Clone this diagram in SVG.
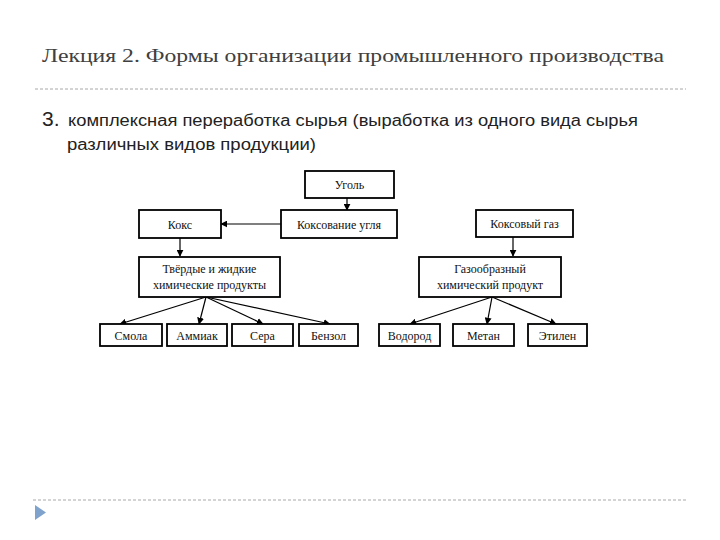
<svg xmlns="http://www.w3.org/2000/svg" width="720" height="540" viewBox="0 0 720 540">
<style>
.box{fill:#fff;stroke:#000;stroke-width:1.8}
.bt{font-family:"Liberation Serif",serif;font-size:12px;fill:#111;text-anchor:middle}
.con{stroke:#000;stroke-width:1.2;fill:none;marker-end:url(#ah)}
.dash{stroke:#a8a8a8;stroke-width:1;stroke-dasharray:3 2}
</style>
<defs>
<marker id="ah" viewBox="0 0 10 10" refX="9" refY="5" markerWidth="7" markerHeight="7" markerUnits="userSpaceOnUse" orient="auto">
<path d="M0,0 L10,5 L0,10 z" fill="#000"/>
</marker>
</defs>
<rect width="720" height="540" fill="#fff"/>
<text x="42" y="62" font-family="Liberation Serif,serif" font-size="19" fill="#404040" textLength="622" lengthAdjust="spacingAndGlyphs">Лекция 2. Формы организации промышленного производства</text>
<line class="dash" x1="35" y1="89" x2="686" y2="89"/>
<text x="42" y="126" font-family="Liberation Sans,sans-serif" font-size="21" fill="#222">3.</text>
<text x="68" y="126" font-family="Liberation Sans,sans-serif" font-size="16" fill="#222" textLength="570" lengthAdjust="spacingAndGlyphs">комплексная переработка сырья (выработка из одного вида сырья</text>
<text x="67" y="150" font-family="Liberation Sans,sans-serif" font-size="16" fill="#222" textLength="249" lengthAdjust="spacingAndGlyphs">различных видов продукции)</text>
<line class="dash" x1="33" y1="500" x2="686" y2="500"/>
<path d="M35,505 L46,512.5 L35,520 z" fill="#7fa3cc"/>

<g id="connectors">
<line class="con" x1="347" y1="198" x2="347" y2="210"/>
<line class="con" x1="281" y1="224" x2="221" y2="224"/>
<line class="con" x1="180" y1="238" x2="180" y2="256"/>
<line class="con" x1="513" y1="237" x2="513" y2="256"/>
<line class="con" x1="206" y1="297" x2="120" y2="324"/>
<line class="con" x1="206" y1="297" x2="199" y2="324"/>
<line class="con" x1="206" y1="297" x2="263" y2="324"/>
<line class="con" x1="206" y1="297" x2="330" y2="324"/>
<line class="con" x1="492" y1="297" x2="410" y2="324"/>
<line class="con" x1="492" y1="297" x2="487" y2="324"/>
<line class="con" x1="492" y1="297" x2="556" y2="324"/>
</g>

<g id="ugol"><rect class="box" x="305" y="171" width="89" height="27"/><text class="bt" x="349.5" y="188.5">Уголь</text></g>
<g id="koksovanie"><rect class="box" x="281" y="210" width="116" height="28"/><text class="bt" x="339" y="228.5">Коксование угля</text></g>
<g id="koks"><rect class="box" x="139" y="210" width="82" height="28"/><text class="bt" x="180" y="228.5">Кокс</text></g>
<g id="koks-gaz"><rect class="box" x="476" y="210" width="97" height="27"/><text class="bt" x="524.5" y="228">Коксовый газ</text></g>
<g id="tverdye"><rect class="box" x="139" y="257" width="141" height="40"/><text class="bt" x="209.5" y="273">Твёрдые и жидкие</text><text class="bt" x="209.5" y="289">химические продукты</text></g>
<g id="gazoobr"><rect class="box" x="419" y="257" width="142" height="40"/><text class="bt" x="490" y="273">Газообразный</text><text class="bt" x="490" y="289">химический продукт</text></g>
<g id="smola"><rect class="box" x="100" y="324" width="62" height="22"/><text class="bt" x="131" y="339.5">Смола</text></g>
<g id="ammiak"><rect class="box" x="167" y="324" width="60" height="22"/><text class="bt" x="197" y="339.5">Аммиак</text></g>
<g id="sera"><rect class="box" x="232" y="324" width="61" height="22"/><text class="bt" x="262.5" y="339.5">Сера</text></g>
<g id="benzol"><rect class="box" x="299" y="324" width="59" height="22"/><text class="bt" x="328.5" y="339.5">Бензол</text></g>
<g id="vodorod"><rect class="box" x="379" y="324" width="61" height="22"/><text class="bt" x="409.5" y="339.5">Водород</text></g>
<g id="metan"><rect class="box" x="453" y="324" width="61" height="22"/><text class="bt" x="483.5" y="339.5">Метан</text></g>
<g id="etilen"><rect class="box" x="528" y="324" width="59" height="22"/><text class="bt" x="557.5" y="339.5">Этилен</text></g>
</svg>
